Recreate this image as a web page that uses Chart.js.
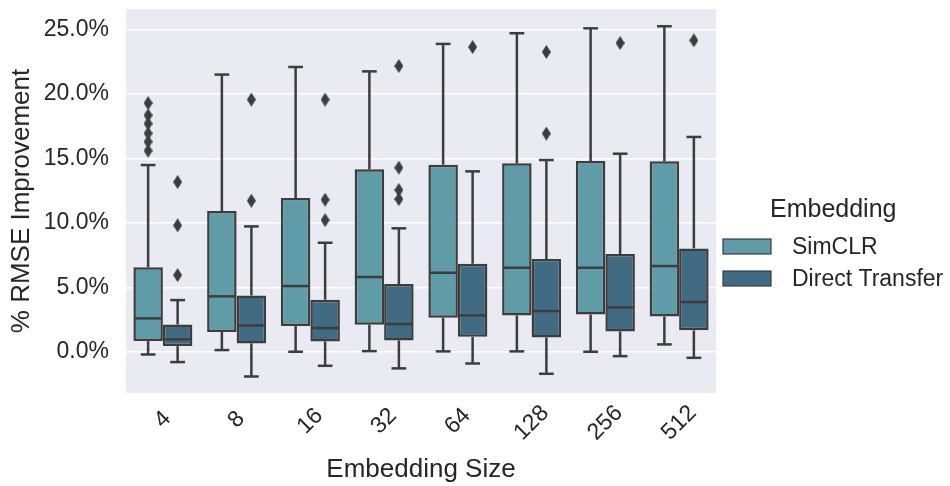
<!DOCTYPE html>
<html>
<head>
<meta charset="utf-8">
<script src="https://cdn.jsdelivr.net/npm/chart.js@4.4.1/dist/chart.umd.min.js"></script>
<style>
  html, body { margin: 0; padding: 0; background: #fff; }
</style>
</head>
<body>
<canvas id="boxChart" width="950" height="486"></canvas>
<script>
// Embedding sizes on the x axis
const sizes = ["4", "8", "16", "32", "64", "128", "256", "512"];
const seriesNames = ["SimCLR", "Direct Transfer"];
const yTicks = [0, 5, 10, 15, 20, 25];

// SimCLR box stats (% RMSE improvement)
const simclrLow = [-0.21, 0.13, 0.0, 0.05, 0.03, 0.03, 0.0, 0.57];
const simclrQ1 = [0.83, 1.53, 1.99, 2.10, 2.64, 2.82, 2.90, 2.74];
const simclrMed = [2.59, 4.30, 5.10, 5.80, 6.13, 6.52, 6.52, 6.65];
const simclrQ3 = [6.55, 10.92, 11.93, 14.16, 14.52, 14.62, 14.80, 14.78];
const simclrHigh = [14.49, 21.51, 22.10, 21.76, 23.89, 24.72, 25.10, 25.26];
const simclrOutliers = [[19.3, 18.35, 17.7, 16.95, 16.3, 15.6], [], [], [], [], [], [], []];

// Direct Transfer box stats
const directLow = [-0.80, -1.92, -1.09, -1.29, -0.91, -1.71, -0.34, -0.47];
const directQ1 = [0.44, 0.65, 0.80, 0.88, 1.16, 1.11, 1.58, 1.66];
const directMed = [0.96, 2.04, 1.84, 2.15, 2.82, 3.16, 3.44, 3.86];
const directQ3 = [2.12, 4.37, 4.04, 5.25, 6.83, 7.19, 7.58, 8.02];
const directHigh = [4.01, 9.73, 8.46, 9.58, 14.0, 14.88, 15.37, 16.67];
const directOutliers = [[13.17, 9.81, 5.95], [19.57, 11.72], [19.57, 11.80, 10.22],
  [22.18, 14.29, 12.55, 11.85], [23.65], [23.27, 16.93], [23.96], [24.17]];

const FONT = "'Liberation Sans', Arial, sans-serif";
const EDGE = "#3d3d3d";
const TEXT = "#262626";
const colors = ["#5f9ca8", "#416b82"];

const stats = [
  { low: simclrLow, med: simclrMed, high: simclrHigh, q1: simclrQ1, q3: simclrQ3, out: simclrOutliers },
  { low: directLow, med: directMed, high: directHigh, q1: directQ1, q3: directQ3, out: directOutliers },
];

// thin diamond marker like matplotlib's 'd'
function diamond(w, h) {
  const c = document.createElement("canvas");
  c.width = w;
  c.height = h;
  const g = c.getContext("2d");
  g.fillStyle = EDGE;
  g.beginPath();
  g.moveTo(w / 2, 0);
  g.lineTo(w, h / 2);
  g.lineTo(w / 2, h);
  g.lineTo(0, h / 2);
  g.closePath();
  g.fill();
  return c;
}
const marker = diamond(9, 14);

const boxParts = {
  id: "boxParts",
  beforeDraw(chart) {
    const { ctx, chartArea: a } = chart;
    ctx.save();
    ctx.fillStyle = "#eaeaf2";
    ctx.fillRect(a.left, a.top, a.right - a.left, a.bottom - a.top);
    ctx.restore();
  },
  afterDatasetsDraw(chart) {
    const { ctx } = chart;
    const y = chart.scales.y;
    const line = (x1, y1, x2, y2) => {
      ctx.beginPath();
      ctx.moveTo(x1, y1);
      ctx.lineTo(x2, y2);
      ctx.stroke();
    };
    ctx.save();
    ctx.strokeStyle = EDGE;
    ctx.lineWidth = 2.5;
    stats.forEach((s, d) => {
      chart.getDatasetMeta(d).data.forEach((el, i) => {
        const x = el.x, w = el.width;
        const yLow = y.getPixelForValue(s.low[i]);
        const yHigh = y.getPixelForValue(s.high[i]);
        // whiskers and caps
        line(x, y.getPixelForValue(s.q3[i]), x, yHigh);
        line(x, y.getPixelForValue(s.q1[i]), x, yLow);
        line(x - w / 4, yHigh, x + w / 4, yHigh);
        line(x - w / 4, yLow, x + w / 4, yLow);
        // median
        const yMed = y.getPixelForValue(s.med[i]);
        line(x - w / 2 + 1, yMed, x + w / 2 - 1, yMed);
        // outliers
        s.out[i].forEach(v => {
          ctx.drawImage(marker, x - marker.width / 2, y.getPixelForValue(v) - marker.height / 2);
        });
      });
    });
    ctx.restore();
  },
  afterDraw(chart) {
    const { ctx, chartArea: a } = chart;
    const xs = chart.scales.x;
    ctx.save();
    ctx.fillStyle = TEXT;
    // rotated x tick labels, centred under each tick
    ctx.font = "23px " + FONT;
    ctx.textAlign = "center";
    ctx.textBaseline = "middle";
    sizes.forEach((lab, i) => {
      const w = ctx.measureText(lab).width;
      ctx.save();
      ctx.translate(xs.getPixelForValue(i), 418 + w * 0.13);
      ctx.rotate(-Math.PI / 4);
      ctx.fillText(lab, 0, 0);
      ctx.restore();
    });
    // x axis title
    ctx.font = "26px " + FONT;
    ctx.textBaseline = "alphabetic";
    ctx.fillText("Embedding Size", (a.left + a.right) / 2, 477);
    // legend
    ctx.textAlign = "left";
    ctx.font = "25px " + FONT;
    ctx.fillText("Embedding", 770, 217);
    ctx.font = "23px " + FONT;
    seriesNames.forEach((name, k) => {
      const top = 239 + k * 32;
      ctx.fillStyle = colors[k];
      ctx.fillRect(723, top, 48, 15);
      ctx.strokeStyle = EDGE;
      ctx.lineWidth = 1.2;
      ctx.strokeRect(723, top, 48, 15);
      ctx.fillStyle = TEXT;
      ctx.fillText(name, 792, top + 15);
    });
    ctx.restore();
  },
};

const ctx = document.getElementById("boxChart").getContext("2d");
new Chart(ctx, {
  type: "bar",
  data: {
    labels: sizes,
    datasets: [
      {
        label: seriesNames[0],
        data: simclrQ1.map((q, i) => [q, simclrQ3[i]]),
        backgroundColor: colors[0],
        borderColor: EDGE,
        borderWidth: 2.5,
        borderSkipped: false,
        categoryPercentage: 0.8,
        barPercentage: 1.0,
      },
      {
        label: seriesNames[1],
        data: directQ1.map((q, i) => [q, directQ3[i]]),
        backgroundColor: colors[1],
        borderColor: EDGE,
        borderWidth: 2.5,
        borderSkipped: false,
        categoryPercentage: 0.8,
        barPercentage: 1.0,
      },
    ],
  },
  options: {
    responsive: false,
    animation: false,
    layout: { padding: { left: 0, top: 9, right: 234, bottom: 93 } },
    plugins: {
      legend: { display: false },
      tooltip: { enabled: false },
    },
    scales: {
      x: { display: false },
      y: {
        min: -3.2,
        max: 26.6,
        afterBuildTicks: (scale) => {
          scale.ticks = yTicks.map(v => ({ value: v }));
        },
        afterFit: (scale) => {
          scale.width = 126;
          scale.paddingTop = 0;
          scale.paddingBottom = 0;
        },
        border: { display: false },
        grid: { color: "#ffffff", lineWidth: 1.6, drawTicks: false },
        ticks: {
          color: TEXT,
          padding: 17,
          font: { family: FONT, size: 23 },
          callback: (v) => v.toFixed(1) + "%",
        },
        title: {
          display: true,
          text: "% RMSE Improvement",
          color: TEXT,
          padding: { top: 6, bottom: 4 },
          font: { family: FONT, size: 26 },
        },
      },
    },
  },
  plugins: [boxParts],
});
</script>
</body>
</html>
